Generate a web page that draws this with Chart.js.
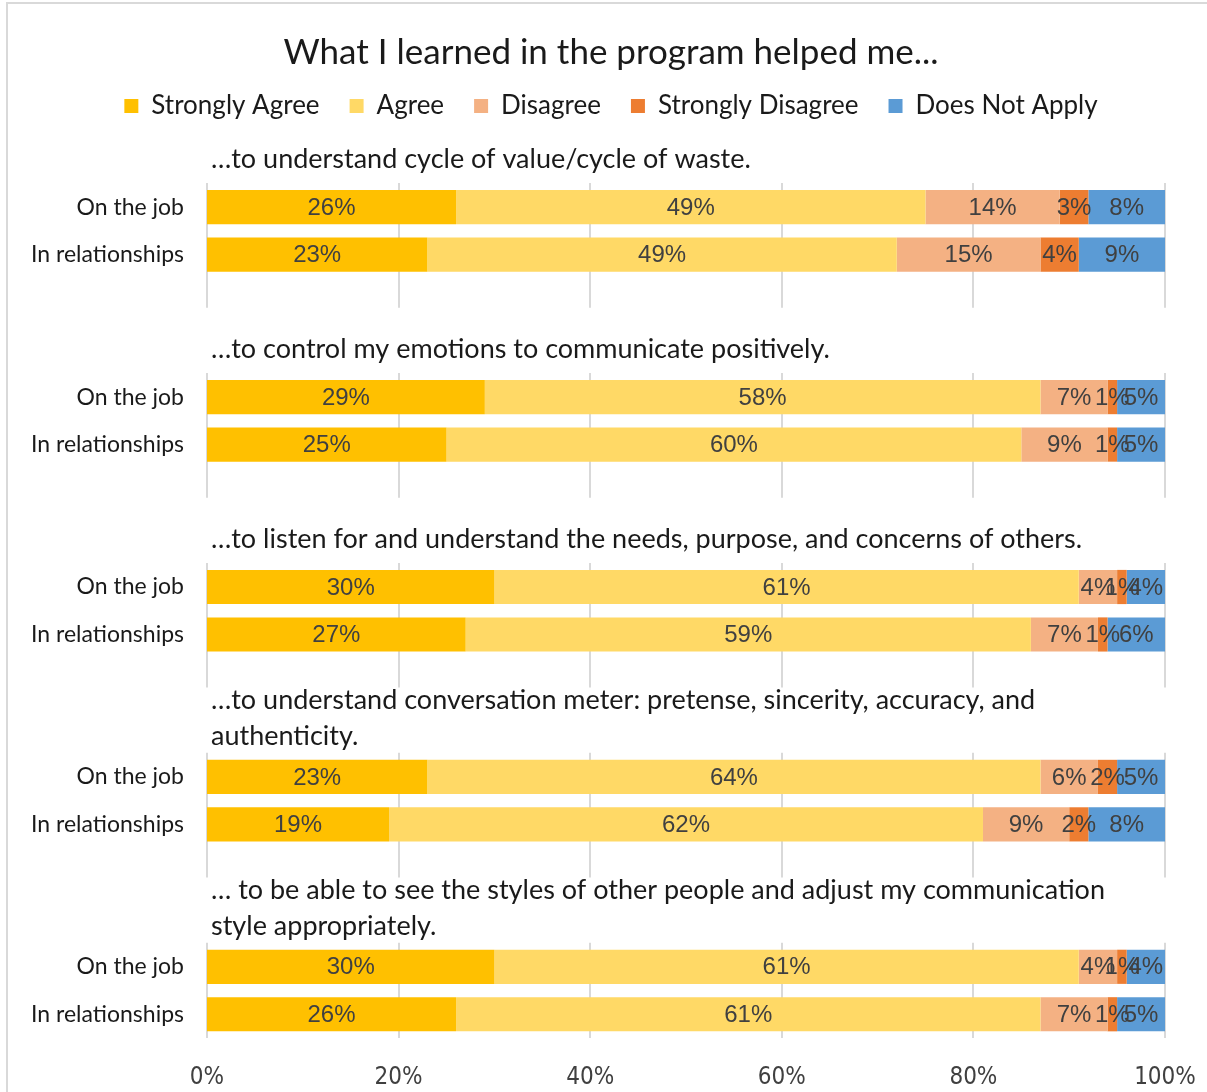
<!DOCTYPE html>
<html>
<head>
<meta charset="utf-8">
<script src="https://cdn.jsdelivr.net/npm/chart.js@4.4.1/dist/chart.umd.min.js"></script>
<style>
  html, body { margin: 0; padding: 0; background: #fff; }
  #wrap { position: relative; width: 1207px; height: 1092px; overflow: hidden; }
  #frame { position: absolute; left: 6px; top: 2px; width: 1220px; height: 1110px;
           border-left: 2px solid #d9d9d9; border-top: 2px solid #d9d9d9; pointer-events: none; }
</style>
</head>
<body>
<div id="wrap">
  <canvas id="chart" width="1207" height="1092"></canvas>
  <div id="frame"></div>
</div>
<script>
const chartTitle = 'What I learned in the program helped me...';
const seriesNames = ['Strongly Agree', 'Agree', 'Disagree', 'Strongly Disagree', 'Does Not Apply'];
const seriesColors = ['#FFC000', '#FFD966', '#F4B183', '#ED7D31', '#5B9BD5'];
const rowLabels = ['On the job', 'In relationships'];
const groupTitles = [
    ['…to understand cycle of value/cycle of waste.'],
    ['…to control my emotions to communicate positively.'],
    ['…to listen for and understand the needs, purpose, and concerns of others.'],
    ['…to understand conversation meter: pretense, sincerity, accuracy, and', 'authenticity.'],
    ['… to be able to see the styles of other people and adjust my communication', 'style appropriately.']
];
// two rows per group: on the job, in relationships
const stronglyAgree    = [26, 23, 29, 25, 30, 27, 23, 19, 30, 26];
const agree            = [49, 49, 58, 60, 61, 59, 64, 62, 61, 61];
const disagree         = [14, 15,  7,  9,  4,  7,  6,  9,  4,  7];
const stronglyDisagree = [ 3,  4,  1,  1,  1,  1,  2,  2,  1,  1];
const doesNotApply     = [ 8,  9,  5,  5,  4,  6,  5,  8,  4,  5];
const xTicks = [0, 20, 40, 60, 80, 100];

const TEXT_FONT = 'Lato';
const NUM_FONT = 'Liberation Sans';
const AXIS_FONT = "'Liberation Sans Narrow', 'DejaVu Sans Condensed', Roboto";

// category slots: empty slots leave room for each group's title
const yLabels = [];
const slotRow = [];
groupTitles.forEach((t, g) => {
    const pad = g === 0 ? 1 : 2;
    for (let i = 0; i < pad; i++) { yLabels.push(''); slotRow.push(-1); }
    rowLabels.forEach((r, k) => { yLabels.push(r); slotRow.push(g * 2 + k); });
});
const allSeries = [stronglyAgree, agree, disagree, stronglyDisagree, doesNotApply];

const datasets = seriesNames.map((name, s) => ({
    label: name,
    data: slotRow.map(r => r < 0 ? null : allSeries[s][r]),
    backgroundColor: seriesColors[s],
    borderWidth: 0,
    barPercentage: 0.72,
    categoryPercentage: 1
}));

function firstSlotOfGroup(g) {
    return slotRow.indexOf(g * 2);
}

// gridlines only span each group's bars, not the title area
const groupGrid = {
    id: 'groupGrid',
    beforeDatasetsDraw(chart) {
        const { ctx, chartArea, scales: { x } } = chart;
        const meta = chart.getDatasetMeta(0);
        ctx.save();
        ctx.strokeStyle = '#d9d9d9';
        ctx.lineWidth = 2;
        groupTitles.forEach((t, g) => {
            const i = firstSlotOfGroup(g);
            const a = meta.data[i], b = meta.data[i + 1];
            const top = a.y - a.height / 2 - 7;
            const bottom = Math.min(b.y + b.height / 2 + 36, chartArea.bottom);
            xTicks.forEach(v => {
                const px = Math.round(x.getPixelForValue(v));
                ctx.beginPath();
                ctx.moveTo(px, top);
                ctx.lineTo(px, bottom);
                ctx.stroke();
            });
        });
        ctx.restore();
    }
};

const groupTitlePlugin = {
    id: 'groupTitles',
    afterDraw(chart) {
        const { ctx, chartArea, scales: { y } } = chart;
        ctx.save();
        ctx.font = '27px ' + TEXT_FONT;
        ctx.fillStyle = '#1a1a1a';
        ctx.textAlign = 'left';
        ctx.textBaseline = 'middle';
        groupTitles.forEach((lines, g) => {
            const slot = firstSlotOfGroup(g) - 1;
            const last = y.getPixelForValue(slot) + (lines.length > 1 ? 7 : 0);
            lines.forEach((line, k) => {
                const ly = last - (lines.length - 1 - k) * 36;
                ctx.fillText(line, chartArea.left + 4, ly);
            });
        });
        ctx.restore();
    }
};

const barLabels = {
    id: 'barLabels',
    afterDatasetsDraw(chart) {
        const { ctx } = chart;
        ctx.save();
        ctx.font = '24px ' + NUM_FONT;
        ctx.fillStyle = '#404040';
        ctx.textAlign = 'center';
        ctx.textBaseline = 'middle';
        chart.data.datasets.forEach((ds, di) => {
            chart.getDatasetMeta(di).data.forEach((el, i) => {
                const v = ds.data[i];
                if (v === null) return;
                const c = el.getCenterPoint();
                ctx.fillText(v + '%', c.x, c.y + 1);
            });
        });
        ctx.restore();
    }
};

new Chart(document.getElementById('chart'), {
    type: 'bar',
    data: { labels: yLabels, datasets: datasets },
    options: {
        indexAxis: 'y',
        responsive: false,
        animation: false,
        layout: { padding: { top: 0, right: 0, bottom: 0, left: 15 } },
        plugins: {
            title: {
                display: true,
                text: chartTitle,
                color: '#1a1a1a',
                font: { family: TEXT_FONT, size: 35, weight: 'normal' },
                padding: { top: 32, bottom: -11 }
            },
            legend: {
                position: 'top',
                labels: {
                    color: '#1a1a1a',
                    font: { family: TEXT_FONT, size: 26 },
                    boxWidth: 14,
                    boxHeight: 14,
                    padding: 30
                }
            },
            tooltip: { enabled: false }
        },
        scales: {
            x: {
                stacked: true,
                min: 0,
                max: 100,
                afterBuildTicks: s => { s.ticks = xTicks.map(v => ({ value: v })); },
                grid: { display: false, drawTicks: false },
                border: { display: false },
                ticks: {
                    callback: v => v + '%',
                    color: '#404040',
                    font: { family: AXIS_FONT, size: 24 },
                    padding: 25,
                    maxRotation: 0
                },
                afterFit: s => { s.height = 54; s.paddingLeft = 0; s.paddingRight = 42; }
            },
            xSpacer: {
                axis: 'x',
                position: 'top',
                grid: { display: false, drawTicks: false },
                border: { display: false },
                ticks: { display: false },
                afterFit: s => { s.height = 7; }
            },
            y: {
                stacked: true,
                grid: { display: false, drawTicks: false },
                border: { display: false },
                ticks: {
                    color: '#1a1a1a',
                    font: { family: TEXT_FONT, size: 23 },
                    padding: 23,
                    autoSkip: false
                },
                afterFit: s => { s.width = 192; }
            }
        }
    },
    plugins: [groupGrid, groupTitlePlugin, barLabels]
});
</script>
</body>
</html>
